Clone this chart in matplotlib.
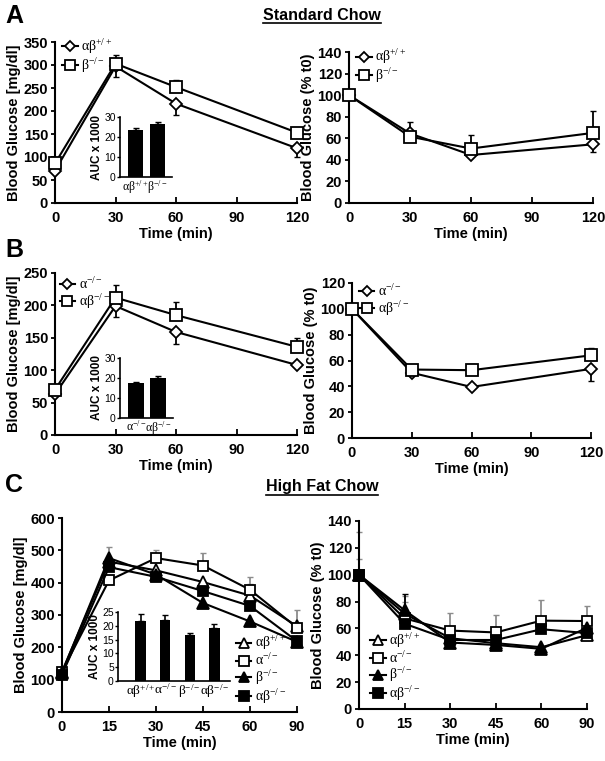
import matplotlib
matplotlib.use("Agg")
import matplotlib.pyplot as plt
import numpy as np
from matplotlib.lines import Line2D

plt.rcParams['font.family'] = ['Liberation Sans', 'DejaVu Sans']
plt.rcParams['font.weight'] = 'normal'
plt.rcParams['mathtext.fontset'] = 'custom'
plt.rcParams['mathtext.rm'] = 'Liberation Serif:weight=normal'
plt.rcParams['mathtext.it'] = 'Liberation Serif:italic'
plt.rcParams['mathtext.bf'] = 'Liberation Serif:bold'

# ---------------- data ----------------
timeAB = [0, 30, 60, 120]

# Panel A (standard chow)
A_wt = [70, 297, 216, 119]
A_wt_lo = [0, 22, 24, 18]
A_wt_hi = [0, 0, 0, 0]
A_b = [86, 303, 252, 153]
A_b_lo = [0, 0, 0, 0]
A_b_hi = [0, 18, 16, 0]

A_wt_pct = [100, 64.5, 44.5, 54.4]
A_wt_pct_lo = [0, 7, 0, 7]
A_wt_pct_hi = [0, 0, 0, 0]
A_b_pct = [100, 61.5, 50.5, 65]
A_b_pct_lo = [0, 0, 0, 0]
A_b_pct_hi = [0, 14, 13, 20]

A_auc_labels = [r'$\mathrm{αβ}^{\mathrm{+/+}}$', r'$\mathrm{β}^{\mathrm{-/-}}$']
A_auc = [23.5, 26.3]
A_auc_err = [1.2, 1.1]

# Panel B (standard chow)
B_a = [63, 199, 159, 108]
B_a_lo = [0, 17, 18, 0]
B_a_hi = [0, 0, 0, 0]
B_ab = [70, 212, 185, 136]
B_ab_lo = [0, 0, 0, 0]
B_ab_hi = [0, 19, 21, 13]

B_a_pct = [100, 50.5, 39.5, 53.5]
B_a_pct_lo = [0, 0, 0, 9]
B_a_pct_hi = [0, 0, 0, 0]
B_ab_pct = [100, 53, 52.5, 64]
B_ab_pct_lo = [0, 0, 0, 0]
B_ab_pct_hi = [0, 0, 5, 6]

B_auc_labels = [r'$\mathrm{α}^{\mathrm{-/-}}$', r'$\mathrm{αβ}^{\mathrm{-/-}}$']
B_auc = [17.5, 20.0]
B_auc_err = [0.6, 1.0]

# Panel C (high fat chow)
timeC = ['0', '15', '30', '45', '60', '90']
C_labels = [r'$\mathrm{αβ}^{\mathrm{+/+}}$', r'$\mathrm{α}^{\mathrm{-/-}}$',
            r'$\mathrm{β}^{\mathrm{-/-}}$', r'$\mathrm{αβ}^{\mathrm{-/-}}$']
C_wt = [125, 465, 438, 402, 360, 265]
C_wt_err = [0, 45, 0, 0, 35, 0]
C_a = [125, 407, 476, 453, 378, 261]
C_a_err = [0, 0, 24, 38, 41, 54]
C_b = [122, 476, 425, 337, 280, 217]
C_b_err = [0, 0, 0, 0, 0, 0]
C_ab = [115, 448, 418, 374, 328, 219]
C_ab_err = [0, 0, 0, 0, 0, 0]

C_wt_pct = [100, 71, 52.7, 49, 46, 55]
C_wt_pct_err = [32, 13, 0, 0, 0, 0]
C_a_pct = [100, 67.5, 58.4, 57, 65.8, 65.5]
C_a_pct_err = [12, 12, 13, 13, 15, 11]
C_b_pct = [100, 73.5, 49.5, 47.7, 44.8, 60.5]
C_b_pct_err = [0, 12, 0, 0, 0, 0]
C_ab_pct = [100, 63.5, 51.4, 51.4, 59.4, 56.5]
C_ab_pct_err = [0, 0, 0, 0, 0, 0]

C_auc = [21.8, 22.0, 16.8, 19.3]
C_auc_err = [2.6, 1.8, 0.6, 1.2]

# ---------------- figure ----------------
W, H = 605, 761
fig = plt.figure(figsize=(W / 100, H / 100), dpi=100)


def ax_px(x0, x1, y0, y1):
    return fig.add_axes([x0 / W, 1 - y1 / H, (x1 - x0) / W, (y1 - y0) / H])


def style(ax, fs=10.5):
    for s in ['top', 'right']:
        ax.spines[s].set_visible(False)
    for s in ['left', 'bottom']:
        ax.spines[s].set_linewidth(1.5)
    ax.tick_params(axis='x', direction='in', length=4, width=1.3, labelsize=fs, pad=6)
    ax.tick_params(axis='y', direction='out', length=3, width=1.3, labelsize=fs, pad=2)
    for lab in ax.get_xticklabels() + ax.get_yticklabels():
        lab.set_fontweight('bold')


def series(ax, x, y, lo, hi, marker, mfc, ms, label, ecolor='black', zorder=3):
    ax.errorbar(x, y, yerr=[lo, hi], fmt='none', ecolor=ecolor, elinewidth=1.3,
                capsize=2.5, capthick=1.0, zorder=zorder - 1, clip_on=False)
    ax.plot(x, y, color='black', lw=1.5, marker=marker, mfc=mfc, mec='black',
            mew=1.3, ms=ms, label=label, clip_on=False, zorder=zorder)


def inset_bar(rect, labels, vals, errs, ymax, step, xlim, width, xfs=8.5):
    ax = ax_px(*rect)
    x = np.arange(len(vals))
    ax.bar(x, vals, width=width, color='black', zorder=2)
    ax.errorbar(x, vals, yerr=[[0] * len(errs), errs], fmt='none', ecolor='black',
                elinewidth=1.2, capsize=2.5, capthick=1.0, zorder=3)
    ax.set_xlim(*xlim)
    ax.set_ylim(0, ymax)
    ax.set_yticks(np.arange(0, ymax + 0.1, step))
    ax.set_xticks(x)
    ax.set_xticklabels(labels, fontsize=xfs)
    ax.patch.set_alpha(0)
    for s in ['top', 'right']:
        ax.spines[s].set_visible(False)
    for s in ['left', 'bottom']:
        ax.spines[s].set_linewidth(1.2)
    ax.tick_params(axis='x', length=0, pad=1)
    ax.tick_params(axis='y', direction='out', length=2, width=1, labelsize=7.5, pad=1)
    ax.set_ylabel('AUC x 1000', fontsize=8.5, fontweight='bold', labelpad=1)
    return ax


def leg(ax, loc, anchor, fs=10):
    lg = ax.legend(loc=loc, bbox_to_anchor=anchor, frameon=False, fontsize=fs,
                   handlelength=1.1, handletextpad=0.25, labelspacing=0.0,
                   borderpad=0, borderaxespad=0, markerscale=0.9)
    return lg


def labels_xy(ax, ylab):
    ax.set_xlabel('Time (min)', fontsize=10.5, fontweight='bold', labelpad=1)
    ax.set_ylabel(ylab, fontsize=10.5, fontweight='bold', labelpad=2)


# ---- Panel A left
ax = ax_px(55, 297, 42, 203)
series(ax, timeAB, A_wt, A_wt_lo, A_wt_hi, 'D', 'white', 6, A_auc_labels[0])
series(ax, timeAB, A_b, A_b_lo, A_b_hi, 's', 'white', 8, A_auc_labels[1])
ax.set_xlim(0, 120); ax.set_ylim(0, 350)
ax.set_xticks([0, 30, 60, 90, 120]); ax.set_yticks(range(0, 351, 50))
labels_xy(ax, 'Blood Glucose [mg/dl]')
style(ax)
leg(ax, 'upper left', (0.03, 1.03))
inset_bar((120, 172, 117, 177), A_auc_labels, A_auc, A_auc_err, 30, 10, (-0.71, 1.65), 0.71)

# ---- Panel A right
ax = ax_px(349, 593, 52, 203)
series(ax, timeAB, A_wt_pct, A_wt_pct_lo, A_wt_pct_hi, 'D', 'white', 6, A_auc_labels[0])
series(ax, timeAB, A_b_pct, A_b_pct_lo, A_b_pct_hi, 's', 'white', 8, A_auc_labels[1])
ax.set_xlim(0, 120); ax.set_ylim(0, 140)
ax.set_xticks([0, 30, 60, 90, 120]); ax.set_yticks(range(0, 141, 20))
labels_xy(ax, 'Blood Glucose (% t0)')
style(ax)
leg(ax, 'upper left', (0.03, 1.03))

# ---- Panel B left
ax = ax_px(55, 297, 273, 435)
series(ax, timeAB, B_a, B_a_lo, B_a_hi, 'D', 'white', 6, B_auc_labels[0])
series(ax, timeAB, B_ab, B_ab_lo, B_ab_hi, 's', 'white', 8, B_auc_labels[1])
ax.set_xlim(0, 120); ax.set_ylim(0, 250)
ax.set_xticks([0, 30, 60, 90, 120]); ax.set_yticks(range(0, 251, 50))
labels_xy(ax, 'Blood Glucose [mg/dl]')
style(ax)
leg(ax, 'upper left', (0.02, 0.98))
inset_bar((120, 173, 358, 418), B_auc_labels, B_auc, B_auc_err, 30, 10, (-0.71, 1.65), 0.71)

# ---- Panel B right
ax = ax_px(352, 591, 283, 438)
series(ax, timeAB, B_a_pct, B_a_pct_lo, B_a_pct_hi, 'D', 'white', 6, B_auc_labels[0])
series(ax, timeAB, B_ab_pct, B_ab_pct_lo, B_ab_pct_hi, 's', 'white', 8, B_auc_labels[1])
ax.set_xlim(0, 120); ax.set_ylim(0, 120)
ax.set_xticks([0, 30, 60, 90, 120]); ax.set_yticks(range(0, 121, 20))
labels_xy(ax, 'Blood Glucose (% t0)')
style(ax)
leg(ax, 'upper left', (0.03, 1.0))

# ---- Panel C left
xC = np.arange(len(timeC))
ax = ax_px(62, 297, 518, 712)
series(ax, xC, C_wt, [0] * 6, C_wt_err, '^', 'white', 8, C_labels[0], ecolor='0.55')
series(ax, xC, C_a, [0] * 6, C_a_err, 's', 'white', 7.5, C_labels[1], ecolor='0.55')
series(ax, xC, C_b, [0] * 6, C_b_err, '^', 'black', 8, C_labels[2])
series(ax, xC, C_ab, [0] * 6, C_ab_err, 's', 'black', 7.5, C_labels[3])
ax.set_xlim(0, 5); ax.set_ylim(0, 600)
ax.set_xticks(xC); ax.set_xticklabels(timeC); ax.set_yticks(range(0, 601, 100))
labels_xy(ax, 'Blood Glucose [mg/dl]')
style(ax)
leg(ax, 'lower left', (0.74, 0.03))
inset_bar((118, 230, 612, 681), C_labels, C_auc, C_auc_err, 25, 5, (-0.92, 3.63), 0.42, xfs=9.5)

# ---- Panel C right
ax = ax_px(359, 587, 521, 709)
series(ax, xC, C_wt_pct, [0] * 6, C_wt_pct_err, '^', 'white', 8, C_labels[0], ecolor='0.55')
series(ax, xC, C_a_pct, [0] * 6, C_a_pct_err, 's', 'white', 7.5, C_labels[1], ecolor='0.55')
series(ax, xC, C_b_pct, [0] * 6, C_b_pct_err, '^', 'black', 8, C_labels[2])
series(ax, xC, C_ab_pct, [0] * 6, C_ab_pct_err, 's', 'black', 7.5, C_labels[3])
ax.set_xlim(0, 5); ax.set_ylim(0, 140)
ax.set_xticks(xC); ax.set_xticklabels(timeC); ax.set_yticks(range(0, 141, 20))
labels_xy(ax, 'Blood Glucose (% t0)')
style(ax)
leg(ax, 'lower left', (0.05, 0.03))

# ---- Panel letters and titles
for letter, yy in [('A', 16), ('B', 250), ('C', 485)]:
    fig.text(5 / W, 1 - yy / H, letter, fontsize=18, fontweight='bold', va='center', ha='left')

titles = []
for txt, yy in [('Standard Chow', 15), ('High Fat Chow', 487)]:
    t = fig.text(322 / W, 1 - yy / H, txt, fontsize=11.5, fontweight='bold', ha='center', va='center')
    titles.append(t)

fig.canvas.draw()
r = fig.canvas.get_renderer()
for t in titles:
    bb = t.get_window_extent(r).transformed(fig.transFigure.inverted())
    fig.add_artist(Line2D([bb.x0, bb.x1], [bb.y0 - 0.001, bb.y0 - 0.001],
                          transform=fig.transFigure, color='black', lw=1.2))

fig.savefig('out.png', dpi=100)
